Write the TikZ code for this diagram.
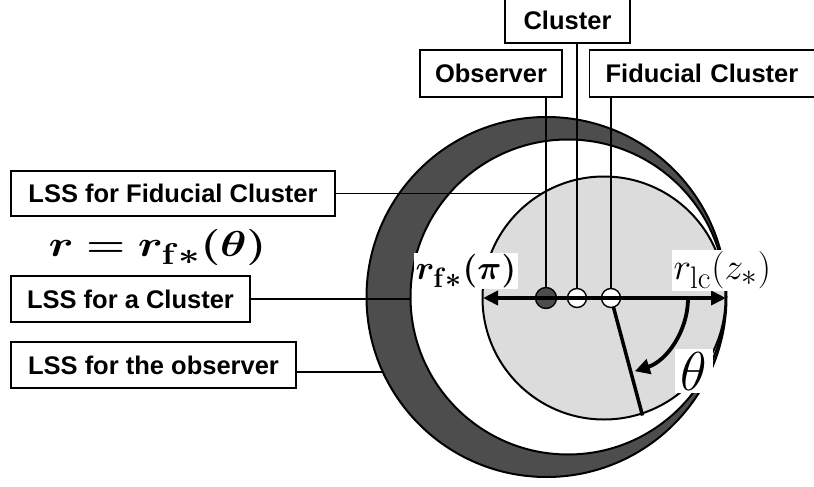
\documentclass[tikz,border=0pt]{standalone}
\usepackage[no-math]{fontspec}
\newfontfamily\lsans{Liberation Sans}
\usepackage{amsmath,bm}
\usetikzlibrary{arrows.meta,calc}
\definecolor{crescent}{RGB}{77,77,77}
\definecolor{lssgray}{RGB}{220,220,220}
\tikzset{
  lbox/.style={draw, line width=1.2pt, fill=white, inner sep=0pt, font=\lsans\bfseries\fontsize{25.5}{30}\selectfont},
  conn/.style={line width=1.2pt},
  dotw/.style={circle, draw, line width=1.4pt, fill=white, minimum size=19pt, inner sep=0pt},
  dotb/.style={circle, draw, line width=1.4pt, fill=crescent, minimum size=21pt, inner sep=0pt},
  mlab/.style={fill=white, inner sep=1.5pt, font=\Huge}
}
\begin{document}
\begin{tikzpicture}[x=1pt,y=-1pt]
\useasboundingbox (0,0) rectangle (814,487);
% circles
\draw[line width=2pt, fill=crescent] (546.5,297) circle[radius=180];
\draw[line width=2pt, fill=white] (568,297) circle[radius=157.5];
\draw[line width=2pt, fill=lssgray] (604,298) circle[radius=121.5];
% boxes
\node[lbox, minimum width=324pt, minimum height=45pt] (lssf) at (173,193.5) {LSS for Fiducial Cluster};
\node[lbox, minimum width=239pt, minimum height=46pt] (lssc) at (130.5,299) {LSS for a Cluster};
\node[lbox, minimum width=285pt, minimum height=46pt] (lsso) at (153.5,365) {LSS for the observer};
\node[lbox, minimum width=142pt, minimum height=47pt] (obsbox) at (491,73.5) {Observer};
\node[lbox, minimum width=125pt, minimum height=45pt] (clbox) at (567.5,20.5) {Cluster};
\node[lbox, anchor=west, inner xsep=16pt, text width=200pt, minimum height=47pt] (fidbox) at (589,73.5) {Fiducial Cluster};
% formula
\node[inner sep=0pt, font=\Huge] (formula) at (157.5,247) {\scalebox{1.8}[1.45]{$\bm{r = r_{\mathbf{f}*}(\theta)}$}};
% dots
\node[dotb] (obsdot) at (546,298) {};
\node[dotw] (cldot) at (577,298) {};
\node[dotw] (fiddot) at (611,298) {};
% connector end coordinates
\coordinate (fe) at (543,193);
\coordinate (ce) at (410.5,298);
\coordinate (oe) at (383,372);
\coordinate (axl) at (483,298);
\coordinate (axr) at (726,298);
\coordinate (rad) at (642.5,415.5);
% connectors
\draw[conn] (lssf.east) -- (lssf.east -| fe);
\draw[conn] (lssc.east) -- (lssc.east -| ce);
\draw[conn] ($(lsso.east)+(0,7)$) -- (oe);
\draw[conn] (obsdot.north) -- (obsdot.north |- obsbox.south);
\draw[conn] (cldot.north) -- (cldot.north |- clbox.south);
\draw[conn] (fiddot.north) -- (fiddot.north |- fidbox.south);
% axis
\draw[line width=4pt, {Triangle[length=15pt,width=14pt]}-{Triangle[length=15pt,width=14pt]}] (axl) -- (axr);
% radius
\draw[line width=3.5pt] ($(fiddot.center)+(75:9)$) -- (rad);
% angle arrow
\draw[line width=3.8pt, -{Triangle[length=15pt,width=15pt]}] ($(fiddot.center)+(0:77)$) arc[start angle=0, end angle=72, radius=77];
% labels
\node[mlab] (rfpi) at (466,271) {\scalebox{1.35}{$\bm{r_{\mathbf{f}*}(\pi)}$}};
\node[mlab, anchor=west] (rlc) at (672,270.5) {\scalebox{1.5}{$r_{\mathrm{lc}}(z_*)$}};
\node[mlab, inner xsep=6pt, inner ysep=3pt] (theta) at (694,371) {\scalebox{2.2}{$\theta$}};
\end{tikzpicture}
\end{document}
